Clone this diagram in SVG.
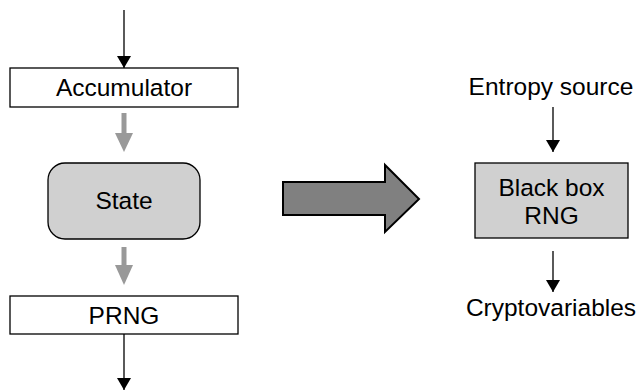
<svg xmlns="http://www.w3.org/2000/svg" width="644" height="390" viewBox="0 0 644 390">
  <defs>
    <marker id="headBlack" viewBox="0 0 12 14" refX="12" refY="7" markerWidth="12" markerHeight="14" markerUnits="userSpaceOnUse" orient="auto">
      <path d="M0,0 L12,7 L0,14 Z" fill="#000"/>
    </marker>
  </defs>
  <style>
    .lbl { font-family: "Liberation Sans", Arial, sans-serif; font-size: 24.5px; fill: #000; text-anchor: middle; }
    .box { fill: #fff; stroke: #000; stroke-width: 1.3; }
    .grey { fill: #d0d0d0; stroke: #000; stroke-width: 1.3; }
    .link { stroke: #000; stroke-width: 1.3; fill: none; marker-end: url(#headBlack); }
    .gshaft { stroke: #999; stroke-width: 5; fill: none; }
    .ghead { fill: #999; }
  </style>

  <!-- left pipeline -->
  <g id="accumulator">
    <rect class="box" x="10" y="68" width="228" height="39"/>
    <text class="lbl" x="124" y="96">Accumulator</text>
  </g>
  <g id="state">
    <rect class="grey" x="48" y="163" width="152" height="76" rx="17" ry="17"/>
    <text class="lbl" x="124" y="208.5">State</text>
  </g>
  <g id="prng">
    <rect class="box" x="10" y="296" width="228" height="38"/>
    <text class="lbl" x="124" y="323.5">PRNG</text>
  </g>

  <!-- right: black box view -->
  <g id="entropy">
    <text class="lbl" x="551" y="95">Entropy source</text>
  </g>
  <g id="blackbox">
    <rect class="grey" x="475" y="163" width="153" height="75"/>
    <text class="lbl" x="551.5" y="195.5">Black box</text>
    <text class="lbl" x="551.5" y="223.5">RNG</text>
  </g>
  <g id="cryptovariables">
    <text class="lbl" x="551" y="315.5">Cryptovariables</text>
  </g>

  <g id="connectors">
    <line class="link" x1="124" y1="10" x2="124" y2="68"/>
    <line class="gshaft" x1="124" y1="113" x2="124" y2="135"/>
    <path class="ghead" d="M115,133 L133,133 L124,152 Z"/>
    <line class="gshaft" x1="124" y1="247" x2="124" y2="267"/>
    <path class="ghead" d="M115,265 L133,265 L124,285 Z"/>
    <line class="link" x1="124" y1="334" x2="124" y2="390"/>
    <line class="link" x1="553" y1="107" x2="553" y2="152"/>
    <line class="link" x1="553" y1="251" x2="553" y2="292"/>
    <!-- block arrow between the two views -->
    <path d="M283,182 L385,182 L385,165 L419,199 L385,232 L385,215 L283,215 Z" fill="#808080" stroke="#000" stroke-width="2" stroke-linejoin="miter"/>
  </g>
</svg>
